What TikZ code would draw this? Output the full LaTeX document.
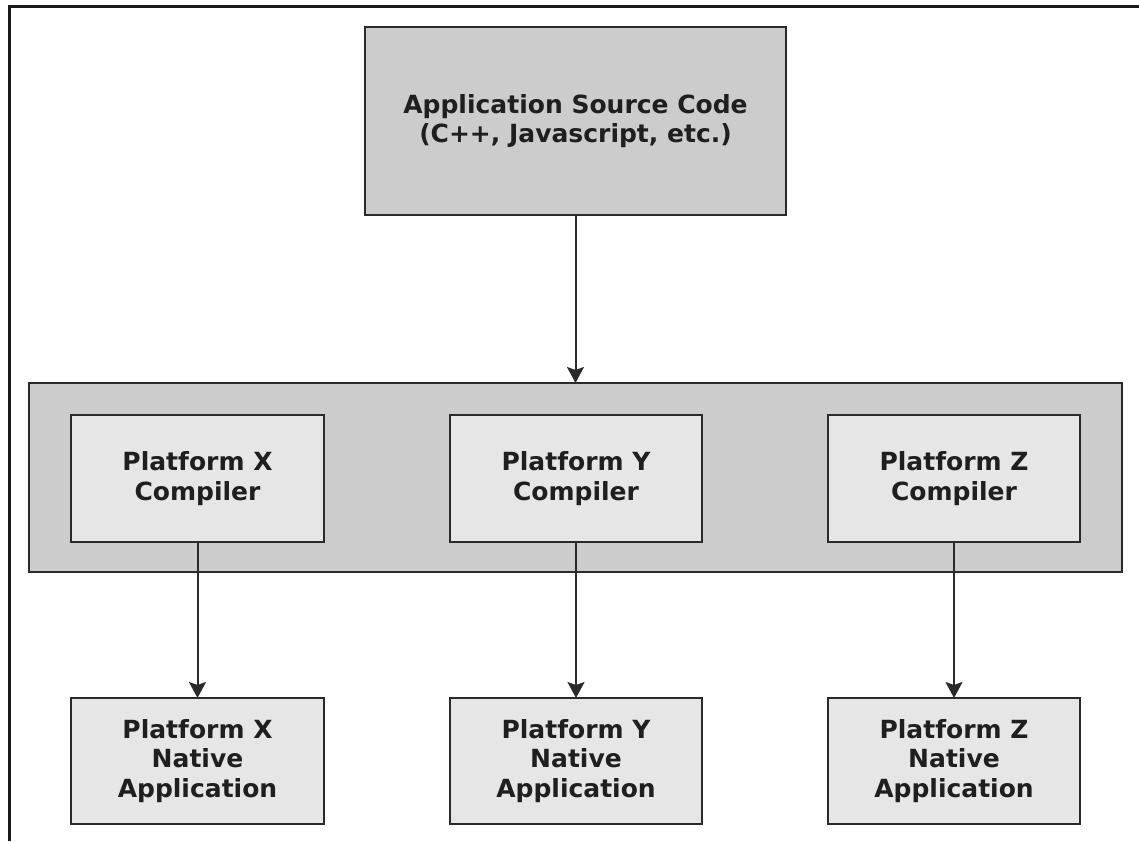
\documentclass[tikz,border=0pt]{standalone}
\usepackage{fontspec}
\setmainfont{DejaVu Sans}
\usetikzlibrary{arrows.meta}
\definecolor{boxdark}{HTML}{CCCCCC}
\definecolor{boxlight}{HTML}{E6E6E6}
\definecolor{edge}{HTML}{2A2A2A}
\tikzset{
  box/.style={draw=edge, line width=2pt, inner sep=0pt, outer sep=0pt, align=center,
    font=\fontsize{25}{29.5}\selectfont\bfseries, text=black!88},
  darkbox/.style={box, fill=boxdark},
  lightbox/.style={box, fill=boxlight},
  conn/.style={draw=edge, line width=2pt, -{Stealth[width=17pt,length=16pt,inset=3pt]}}
}
\begin{document}
\begin{tikzpicture}[x=1pt,y=-1pt]
\useasboundingbox (0,0) rectangle (1139,841);
\fill[white] (0,0) rectangle (1139,841);
\draw[line width=3pt, black!90] (9,841) -- (9,6) -- (1139,6);
\node[darkbox, minimum width=421pt, minimum height=188pt] (src) at (575.5,121) {Application Source Code\\(C++, Javascript, etc.)};
\node[darkbox, minimum width=1093pt, minimum height=189pt] (cont) at (575.5,477.5) {};
\node[lightbox, minimum width=253pt, minimum height=127pt] (cx) at (197.5,478.5) {Platform X\\Compiler};
\node[lightbox, minimum width=252pt, minimum height=127pt] (cy) at (576,478.5) {Platform Y\\Compiler};
\node[lightbox, minimum width=252pt, minimum height=127pt] (cz) at (954,478.5) {Platform Z\\Compiler};
\node[lightbox, minimum width=253pt, minimum height=126pt] (nx) at (197.5,761) {Platform X\\Native\\Application};
\node[lightbox, minimum width=252pt, minimum height=126pt] (ny) at (576,761) {Platform Y\\Native\\Application};
\node[lightbox, minimum width=252pt, minimum height=126pt] (nz) at (954,761) {Platform Z\\Native\\Application};
\draw[conn] (src.south) -- (cont.north);
\draw[conn] (cx.south) -- (nx.north);
\draw[conn] (cy.south) -- (ny.north);
\draw[conn] (cz.south) -- (nz.north);
\end{tikzpicture}
\end{document}
